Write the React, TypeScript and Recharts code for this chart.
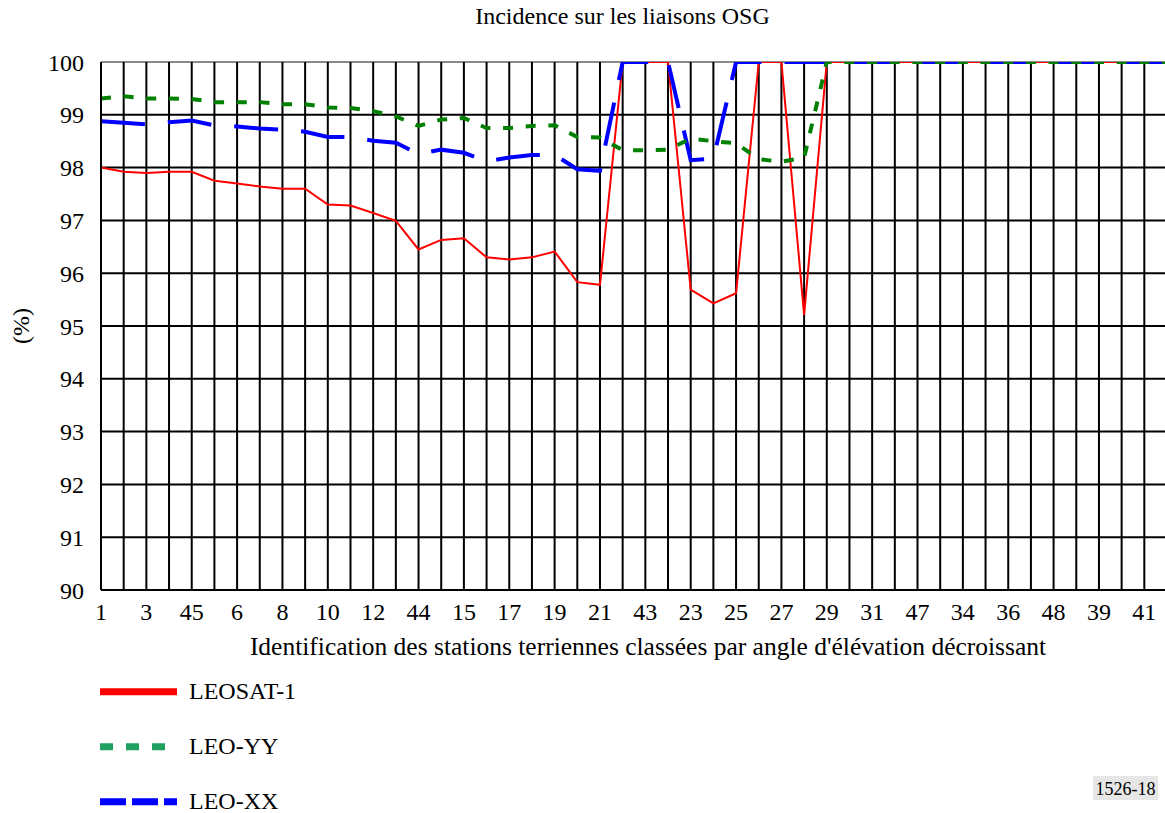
import React from 'react';
import { LineChart, Line, XAxis, YAxis, CartesianGrid, Legend } from 'recharts';

const stations = ['1','2','3','4','45','5','6','7','8','9','10','11','12','13','44','14','15','16','17','18','19','20','21','22','43','46','23','24','25','26','27','28','29','30','31','32','47','33','34','35','36','37','48','38','39','40','41','42'];

const leosat1 = [98.0, 97.92, 97.9, 97.92, 97.92, 97.75, 97.7, 97.64, 97.6, 97.6, 97.3, 97.28, 97.14, 96.99, 96.45, 96.63, 96.66, 96.3, 96.26, 96.3, 96.41, 95.83, 95.78, 100, 100, 100, 95.69, 95.43, 95.62, 100, 100, 95.21, 100, 100, 100, 100, 100, 100, 100, 100, 100, 100, 100, 100, 100, 100, 100, 100];

const leoYY = [99.31, 99.35, 99.31, 99.31, 99.3, 99.24, 99.24, 99.24, 99.2, 99.2, 99.14, 99.13, 99.07, 98.97, 98.79, 98.91, 98.94, 98.75, 98.75, 98.79, 98.8, 98.58, 98.57, 98.33, 98.33, 98.34, 98.55, 98.5, 98.46, 98.16, 98.11, 98.19, 100, 100, 100, 100, 100, 100, 100, 100, 100, 100, 100, 100, 100, 100, 100, 100];

const leoXX = [98.88, 98.85, 98.82, 98.86, 98.89, 98.8, 98.78, 98.74, 98.72, 98.68, 98.58, 98.58, 98.51, 98.47, 98.26, 98.34, 98.28, 98.12, 98.19, 98.24, 98.24, 97.97, 97.94, 100, 100, 100, 98.14, 98.17, 100, 100, 100, 100, 100, 100, 100, 100, 100, 100, 100, 100, 100, 100, 100, 100, 100, 100, 100, 100];

const yTicks = [90, 91, 92, 93, 94, 95, 96, 97, 98, 99, 100];

const chartTitle = 'Incidence sur les liaisons OSG';
const xTitle = "Identification des stations terriennes classées par angle d'élévation décroissant";
const yTitle = '(%)';
const figureId = '1526-18';

const legendItems = [
  { name: 'LEOSAT-1', color: '#ff0000', dash: undefined as string | undefined },
  { name: 'LEO-YY', color: '#22a05f', dash: '13 13' },
  { name: 'LEO-XX', color: '#0000ff', dash: '26 6' },
];

const data = stations.map((s, i) => ({
  station: s,
  leosat1: leosat1[i],
  leoYY: leoYY[i],
  leoXX: leoXX[i],
}));

const FONT = "'Liberation Serif', 'Times New Roman', serif";

const LegendContent = () => (
  <svg width={330} height={150} style={{ display: 'block', overflow: 'visible' }}>
    {legendItems.map((it, i) => {
      const cy = 21.7 + i * 55;
      return (
        <g key={it.name}>
          <line x1={100} x2={177} y1={cy} y2={cy} stroke={it.color} strokeWidth={7} strokeDasharray={it.dash} />
          <text x={189} y={cy + 6.8} fontSize={24} fontFamily={FONT} fill="#000">{it.name}</text>
        </g>
      );
    })}
  </svg>
);

const gridH = (p: any) => (
  <line
    key={p.key}
    x1={p.x1}
    y1={p.y1}
    x2={p.x2}
    y2={p.y2}
    stroke={p.y1 < 64 ? '#8a8a8a' : '#000'}
    strokeWidth={2}
  />
);

export default function App() {
  return (
    <div style={{ position: 'relative', width: 1170, height: 813, fontFamily: FONT, background: '#fff' }}>
      <style>{'html,body{margin:0;padding:0;overflow:hidden;background:#fff}'}</style>
      <LineChart width={1170} height={813} data={data} margin={{ top: 62, right: 3, bottom: 193, left: 0 }}>
        <CartesianGrid stroke="#000" strokeWidth={2} horizontal={gridH} />
        <XAxis
          dataKey="station"
          interval={0}
          height={30}
          tickLine={false}
          axisLine={{ stroke: '#000', strokeWidth: 2 }}
          tickMargin={7}
          tick={{ fill: '#000', fontSize: 24, fontFamily: FONT }}
          tickFormatter={(v: any, i: number) => (i % 2 === 0 ? v : '')}
        />
        <YAxis
          width={101}
          domain={[90, 100]}
          ticks={yTicks}
          interval={0}
          allowDataOverflow
          tickLine={false}
          axisLine={{ stroke: '#000', strokeWidth: 2 }}
          tickMargin={11}
          tick={{ fill: '#000', fontSize: 24, fontFamily: FONT }}
        />
        <Line type="linear" dataKey="leosat1" name="LEOSAT-1" stroke="#ff0000" strokeWidth={2} dot={false} activeDot={false} isAnimationActive={false} />
        <Line type="linear" dataKey="leoXX" name="LEO-XX" stroke="#0000ff" strokeWidth={4} strokeDasharray="44 23" dot={false} activeDot={false} isAnimationActive={false} />
        <Line type="linear" dataKey="leoYY" name="LEO-YY" stroke="#008000" strokeWidth={4} strokeDasharray="10 12.7" dot={false} activeDot={false} isAnimationActive={false} />
        <Legend
          layout="vertical"
          verticalAlign="middle"
          align="center"
          wrapperStyle={{ left: 0, top: 670, width: 330, height: 150 }}
          content={() => <LegendContent />}
        />
      </LineChart>
      <svg width={1170} height={813} style={{ position: 'absolute', left: 0, top: 0, pointerEvents: 'none' }}>
        <text x={622.5} y={24} textAnchor="middle" fontSize={24} fontFamily={FONT} fill="#000">{chartTitle}</text>
        <text x={648} y={655} textAnchor="middle" fontSize={25.5} fontFamily={FONT} fill="#000">{xTitle}</text>
        <text x={29} y={326} textAnchor="middle" fontSize={24} fontFamily={FONT} fill="#000" transform="rotate(-90 29 326)">{yTitle}</text>
        <rect x={1093} y={776} width={65} height={24} fill="#e6e6e6" />
        <text x={1125.5} y={795} textAnchor="middle" fontSize={18} fontFamily={FONT} fill="#000">{figureId}</text>
      </svg>
    </div>
  );
}
